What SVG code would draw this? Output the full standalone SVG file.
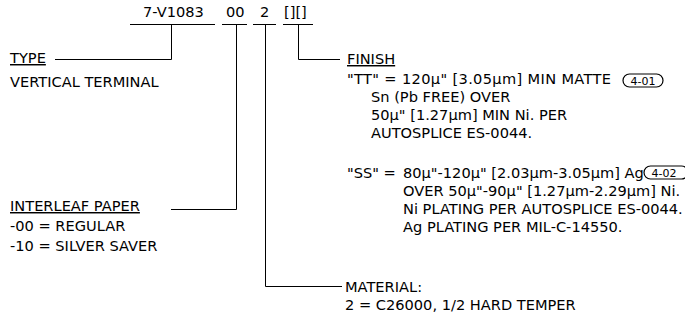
<svg xmlns="http://www.w3.org/2000/svg" width="685" height="322" viewBox="0 0 685 322">
<style>
text{font-family:"DejaVu Sans",Verdana,sans-serif;font-size:14.6px;fill:#000}
.u{text-decoration:underline}
.ln{stroke:#000;stroke-width:1;fill:none}
.bd{stroke:#000;stroke-width:1.2;fill:#fff}
.bt{font-size:11px}
</style>
<rect width="685" height="322" fill="#fff"/>
<g id="partno">
<text x="143" y="17">7-V1083</text>
<text x="226" y="17">00</text>
<text x="260" y="17">2</text>
<text x="284" y="17">[][]</text>
</g>
<g id="connectors">
<path class="ln" d="M130 24.5H215M222 24.5H247M253 24.5H276M283 24.5H313"/>
<path class="ln" d="M171.5 24.5V59.5H55"/>
<path class="ln" d="M236.5 24.5V209.5H171"/>
<path class="ln" d="M265.5 24.5V286.5H342"/>
<path class="ln" d="M298.5 24.5V59.5H340"/>
</g>
<g id="type">
<text x="10" y="63" class="u">TYPE</text>
<text x="10" y="87">VERTICAL TERMINAL</text>
</g>
<g id="interleaf">
<text x="10" y="211" class="u">INTERLEAF PAPER</text>
<text x="10" y="231">-00 = REGULAR</text>
<text x="10" y="251">-10 = SILVER SAVER</text>
</g>
<g id="finish">
<text x="347" y="64" class="u">FINISH</text>
<text x="347" y="84" textLength="264" lengthAdjust="spacing">"TT" = 120µ" [3.05µm] MIN MATTE</text>
<text x="371" y="102">Sn (Pb FREE) OVER</text>
<text x="371" y="120">50µ" [1.27µm] MIN Ni. PER</text>
<text x="371" y="138">AUTOSPLICE ES-0044.</text>
<text x="347" y="178">"SS" =</text>
<text x="403" y="178">80µ"-120µ" [2.03µm-3.05µm] Ag</text>
<text x="403" y="196">OVER 50µ"-90µ" [1.27µm-2.29µm] Ni.</text>
<text x="403" y="214">Ni PLATING PER AUTOSPLICE ES-0044.</text>
<text x="403" y="232">Ag PLATING PER MIL-C-14550.</text>
</g>
<g id="badge1">
<rect class="bd" x="623" y="74" width="40" height="13" rx="6.5"/>
<text x="643" y="84.5" text-anchor="middle" class="bt">4-01</text>
</g>
<g id="badge2">
<rect class="bd" x="644" y="166" width="44" height="13" rx="6.5"/>
<text x="664" y="176.5" text-anchor="middle" class="bt">4-02</text>
</g>
<g id="material">
<text x="345" y="292">MATERIAL:</text>
<text x="345" y="310">2 = C26000, 1/2 HARD TEMPER</text>
</g>
</svg>
